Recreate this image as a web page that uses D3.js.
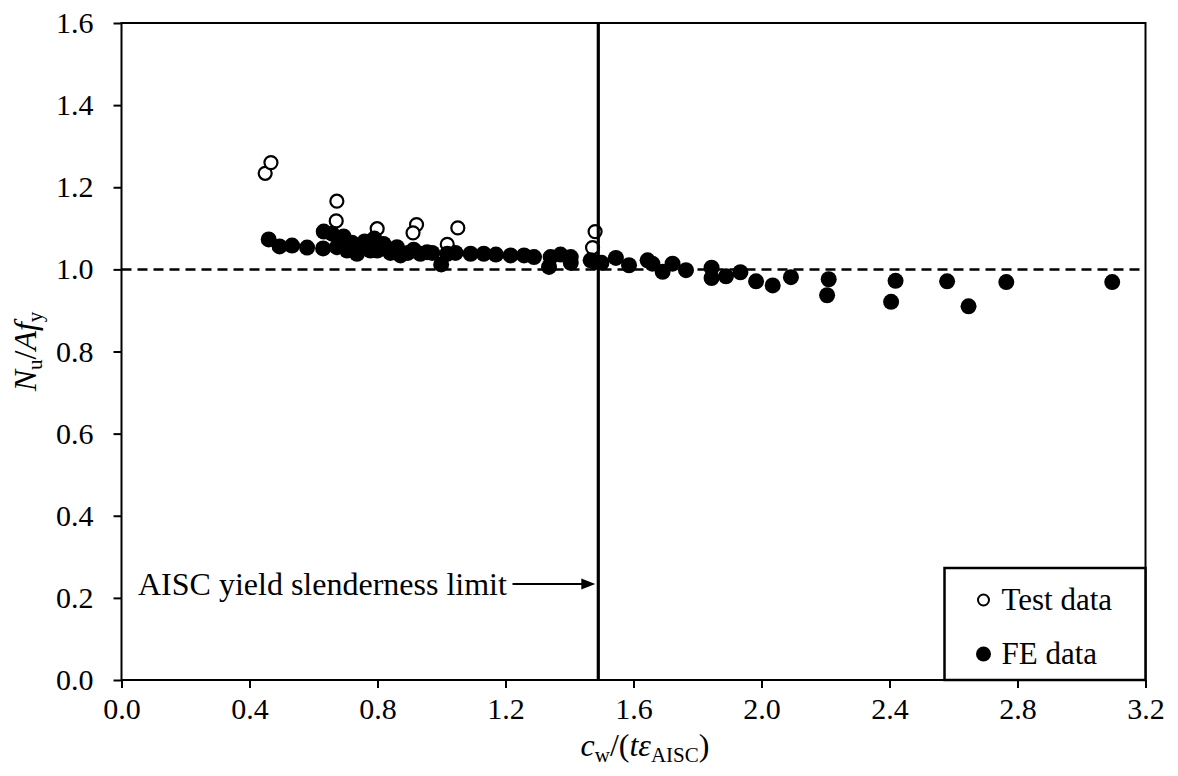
<!DOCTYPE html>
<html>
<head>
<meta charset="utf-8">
<script src="https://cdn.jsdelivr.net/npm/d3@7"></script>
<style>
    body { margin: 0; background: #fff; }
    text { font-family: "Liberation Serif", "Times New Roman", serif; fill: #000; }
</style>
</head>
<body>
<div id="chart"></div>
<script>
// Test data (open circles)
var testX = [0.449, 0.467, 0.673, 0.671, 0.799, 0.922, 0.911, 1.051, 1.018, 1.480, 1.472];
var testY = [1.234, 1.260, 1.166, 1.118, 1.099, 1.109, 1.089, 1.101, 1.061, 1.092, 1.053];

// FE data (filled circles)
var feX = [0.460, 0.494, 0.533, 0.580, 0.632, 0.630, 0.658, 0.673, 0.694, 0.705, 0.720, 0.736,
    0.760, 0.778, 0.790, 0.799, 0.819, 0.840, 0.861, 0.872, 0.895, 0.913, 0.934, 0.955,
    0.971, 0.999, 1.018, 1.044, 1.091, 1.132, 1.170, 1.216, 1.258, 1.289, 1.336, 1.341,
    1.372, 1.404, 1.404, 1.466, 1.480, 1.500, 1.545, 1.586, 1.644, 1.659, 1.691, 1.722,
    1.764, 1.844, 1.844, 1.889, 1.934, 1.983, 2.035, 2.092, 2.210, 2.205, 2.419, 2.405,
    2.580, 2.647, 2.765, 3.096];
var feY = [1.073, 1.056, 1.058, 1.053, 1.092, 1.051, 1.087, 1.054, 1.080, 1.046, 1.065, 1.038,
    1.068, 1.046, 1.075, 1.046, 1.062, 1.040, 1.054, 1.034, 1.040, 1.048, 1.038, 1.042,
    1.040, 1.012, 1.038, 1.040, 1.038, 1.038, 1.036, 1.034, 1.034, 1.030, 1.006, 1.030,
    1.036, 1.030, 1.016, 1.022, 1.018, 1.016, 1.028, 1.010, 1.022, 1.014, 0.994, 1.014,
    0.998, 1.004, 0.979, 0.983, 0.993, 0.971, 0.961, 0.981, 0.976, 0.937, 0.972, 0.921,
    0.971, 0.910, 0.969, 0.969];

var xTicks = [0.0, 0.4, 0.8, 1.2, 1.6, 2.0, 2.4, 2.8, 3.2];
var yTicks = [0.0, 0.2, 0.4, 0.6, 0.8, 1.0, 1.2, 1.4, 1.6];

var aiscLimit = 1.49;   // AISC yield slenderness limit
var unityLine = 1.0;

var W = 1178, H = 776;
var margin = { top: 23, right: 32.5, bottom: 96, left: 121.5 },
    width = W - margin.left - margin.right,
    height = H - margin.top - margin.bottom;

var svg = d3.select("#chart").append("svg")
    .attr("width", W)
    .attr("height", H);

var g = svg.append("g")
    .attr("transform", "translate(" + margin.left + "," + margin.top + ")");

var xScale = d3.scaleLinear().domain([0, 3.2]).range([0, width]);
var yScale = d3.scaleLinear().domain([0, 1.6]).range([height, 0]);

var fmt = d3.format(".1f");

var xAxis = d3.axisBottom(xScale)
    .tickValues(xTicks)
    .tickFormat(fmt)
    .tickSizeInner(8)
    .tickSizeOuter(0)
    .tickPadding(10);

var yAxis = d3.axisLeft(yScale)
    .tickValues(yTicks)
    .tickFormat(fmt)
    .tickSizeInner(8)
    .tickSizeOuter(0)
    .tickPadding(20);

var gx = g.append("g")
    .attr("transform", "translate(0," + height + ")")
    .call(xAxis);
var gy = g.append("g").call(yAxis);

[gx, gy].forEach(function(ax) {
    ax.select(".domain").remove();
    ax.selectAll(".tick line").attr("stroke", "#000").attr("stroke-width", 2);
    ax.selectAll(".tick text")
        .style("font-family", "'Liberation Serif', 'Times New Roman', serif")
        .style("font-size", "30px")
        .attr("fill", "#000");
});

// dashed unity line
g.append("line")
    .attr("x1", xScale(0))
    .attr("x2", xScale(3.2))
    .attr("y1", yScale(unityLine))
    .attr("y2", yScale(unityLine))
    .attr("stroke", "#000")
    .attr("stroke-width", 2.5)
    .attr("stroke-dasharray", "10,6");

// test data - drawn first so FE points sit on top
g.selectAll("circle.test")
    .data(testX)
    .enter()
    .append("circle")
    .attr("class", "test")
    .attr("cx", function(d) { return xScale(d); })
    .attr("cy", function(d, i) { return yScale(testY[i]); })
    .attr("r", 6.5)
    .attr("fill", "#fff")
    .attr("stroke", "#000")
    .attr("stroke-width", 2.2);

g.selectAll("circle.fe")
    .data(feX)
    .enter()
    .append("circle")
    .attr("class", "fe")
    .attr("cx", function(d) { return xScale(d); })
    .attr("cy", function(d, i) { return yScale(feY[i]); })
    .attr("r", 8)
    .attr("fill", "#000");

// AISC limit vertical line
g.append("line")
    .attr("x1", xScale(aiscLimit))
    .attr("x2", xScale(aiscLimit))
    .attr("y1", 0)
    .attr("y2", height)
    .attr("stroke", "#000")
    .attr("stroke-width", 3.2);

// annotation
var annY = yScale(0.2);
g.append("text")
    .attr("x", 16.5)
    .attr("y", annY - 3)
    .style("font-size", "32px")
    .text("AISC yield slenderness limit");

var arrowEnd = xScale(aiscLimit) - 3;
g.append("line")
    .attr("x1", 391)
    .attr("x2", arrowEnd - 10)
    .attr("y1", annY - 14)
    .attr("y2", annY - 14)
    .attr("stroke", "#000")
    .attr("stroke-width", 2);
g.append("path")
    .attr("d", "M" + arrowEnd + "," + (annY - 14) + " l-14,-5.5 l0,11 z")
    .attr("fill", "#000");

// plot frame
g.append("rect")
    .attr("x", 0)
    .attr("y", 0)
    .attr("width", width)
    .attr("height", height)
    .attr("fill", "none")
    .attr("stroke", "#000")
    .attr("stroke-width", 2);

// legend
var legend = g.append("g")
    .attr("transform", "translate(" + (width - 201) + "," + (height - 112) + ")");
legend.append("rect")
    .attr("width", 201)
    .attr("height", 112)
    .attr("fill", "#fff")
    .attr("stroke", "#000")
    .attr("stroke-width", 2.5);
legend.append("circle")
    .attr("cx", 39).attr("cy", 32).attr("r", 5.5)
    .attr("fill", "#fff").attr("stroke", "#000").attr("stroke-width", 2);
legend.append("text")
    .attr("x", 57).attr("y", 42)
    .style("font-size", "31px")
    .text("Test data");
legend.append("circle")
    .attr("cx", 39).attr("cy", 86).attr("r", 7.5)
    .attr("fill", "#000");
legend.append("text")
    .attr("x", 57).attr("y", 96)
    .style("font-size", "31px")
    .text("FE data");

// axis titles (subscripts dropped a little below the baseline)
var xt = svg.append("text")
    .attr("x", 645)
    .attr("y", 756)
    .attr("text-anchor", "middle")
    .style("font-size", "32px");
xt.append("tspan").style("font-style", "italic").text("c");
xt.append("tspan").attr("baseline-shift", "-6px").style("font-size", "21px").text("w");
xt.append("tspan").text("/(");
xt.append("tspan").style("font-style", "italic").text("tε");
xt.append("tspan").attr("baseline-shift", "-6px").style("font-size", "21px").text("AISC");
xt.append("tspan").text(")");

var yt = svg.append("text")
    .attr("transform", "translate(36," + (margin.top + height / 2) + ") rotate(-90)")
    .attr("text-anchor", "middle")
    .style("font-size", "32px");
yt.append("tspan").style("font-style", "italic").text("N");
yt.append("tspan").attr("baseline-shift", "-6px").style("font-size", "21px").text("u");
yt.append("tspan").text("/");
yt.append("tspan").style("font-style", "italic").text("Af");
yt.append("tspan").attr("baseline-shift", "-6px").style("font-size", "21px").text("y");
</script>
</body>
</html>
